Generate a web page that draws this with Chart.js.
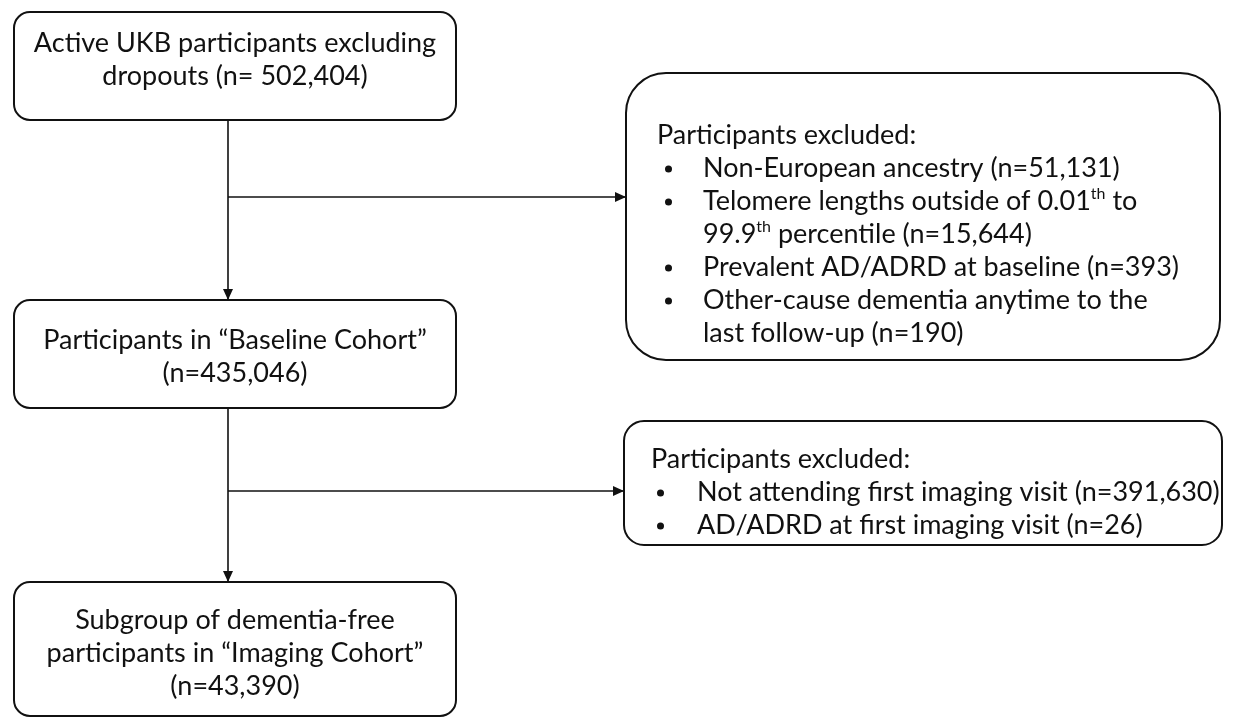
<!DOCTYPE html>
<html>
<head>
<meta charset="utf-8">
<script src="https://cdn.jsdelivr.net/npm/chart.js@4.4.1/dist/chart.umd.min.js"></script>
<style>
  html, body { margin: 0; padding: 0; background: #fff; }
  #flow { display: block; }
</style>
</head>
<body>
<canvas id="flow" width="1238" height="719"></canvas>
<script>
// Box texts (main column, top to bottom)
const mainSteps = [
    ['Active UKB participants excluding', 'dropouts (n= 502,404)'],
    ['Participants in \u201cBaseline Cohort\u201d', '(n=435,046)'],
    ['Subgroup of dementia-free', 'participants in \u201cImaging Cohort\u201d', '(n=43,390)']
];
const exclusionTitle = 'Participants excluded:';
// ^...^ marks superscript
const exclusionsBaseline = [
    ['Non-European ancestry (n=51,131)'],
    ['Telomere lengths outside of 0.01^th^ to', '99.9^th^ percentile (n=15,644)'],
    ['Prevalent AD/ADRD at baseline (n=393)'],
    ['Other-cause dementia anytime to the', 'last follow-up (n=190)']
];
const exclusionsImaging = [
    ['Not attending first imaging visit (n=391,630)'],
    ['AD/ADRD at first imaging visit (n=26)']
];

// Layout in chart units (x: 0..1238, y: 0..719 top-down)
const layout = {
    main: [
        { x0: 14, x1: 456, y0: 12, y1: 120, r: 16, firstLine: 43 },
        { x0: 14, x1: 456, y0: 300, y1: 408, r: 16, firstLine: 340 },
        { x0: 14, x1: 456, y0: 582, y1: 716, r: 16, firstLine: 620 }
    ],
    side: [
        { x0: 626, x1: 1220, y0: 73, y1: 360, r: 40, titleX: 657, bulletX: 665, textX: 703, firstLine: 135 },
        { x0: 624, x1: 1222, y0: 421, y1: 545, r: 20, titleX: 651, bulletX: 657, textX: 697, firstLine: 459 }
    ],
    lineGap: 33,
    spineX: 228,
    branchY: [197, 491]
};

const FONT = 'Lato';
const FONT_SIZE = 27;
const INK = '#111111';

// connectors: vertical spines and horizontal branches
const connectors = [
    [{ x: layout.spineX, y: layout.main[0].y1 }, { x: layout.spineX, y: layout.main[1].y0 }],
    [{ x: layout.spineX, y: layout.branchY[0] }, { x: layout.side[0].x0, y: layout.branchY[0] }],
    [{ x: layout.spineX, y: layout.main[1].y1 }, { x: layout.spineX, y: layout.main[2].y0 }],
    [{ x: layout.spineX, y: layout.branchY[1] }, { x: layout.side[1].x0, y: layout.branchY[1] }]
];

function drawRich(ctx, text, x, y, align) {
    const parts = text.split('^');
    const base = FONT_SIZE + 'px ' + FONT;
    const sup = Math.round(FONT_SIZE * 0.58) + 'px ' + FONT;
    let total = 0;
    parts.forEach((p, i) => { ctx.font = i % 2 ? sup : base; total += ctx.measureText(p).width; });
    let cx = align === 'center' ? x - total / 2 : x;
    ctx.textAlign = 'left';
    parts.forEach((p, i) => {
        ctx.font = i % 2 ? sup : base;
        ctx.fillText(p, cx, i % 2 ? y - FONT_SIZE * 0.28 : y);
        cx += ctx.measureText(p).width;
    });
}

const flowPlugin = {
    id: 'flow',
    afterDatasetsDraw(chart) {
        const { ctx, scales: { x, y } } = chart;
        const px = v => x.getPixelForValue(v);
        const py = v => y.getPixelForValue(v);
        ctx.save();
        ctx.strokeStyle = INK;
        ctx.fillStyle = INK;
        ctx.lineWidth = 2;
        ctx.textBaseline = 'middle';

        const box = b => {
            ctx.beginPath();
            ctx.roundRect(px(b.x0), py(b.y0), px(b.x1) - px(b.x0), py(b.y1) - py(b.y0), b.r);
            ctx.stroke();
        };

        layout.main.forEach((b, i) => {
            box(b);
            const cx = (b.x0 + b.x1) / 2;
            mainSteps[i].forEach((t, j) => drawRich(ctx, t, px(cx), py(b.firstLine + j * layout.lineGap), 'center'));
        });

        [exclusionsBaseline, exclusionsImaging].forEach((items, i) => {
            const b = layout.side[i];
            box(b);
            let row = 0;
            drawRich(ctx, exclusionTitle, px(b.titleX), py(b.firstLine), 'left');
            items.forEach(lines => {
                row++;
                // small round bullet
                ctx.beginPath();
                ctx.arc(px(b.bulletX) + 3.5, py(b.firstLine + row * layout.lineGap) + 1, 3.5, 0, Math.PI * 2);
                ctx.fill();
                lines.forEach((t, k) => {
                    if (k > 0) row++;
                    drawRich(ctx, t, px(b.textX), py(b.firstLine + row * layout.lineGap), 'left');
                });
            });
        });

        // arrow heads at the end of every connector
        connectors.forEach(seg => {
            const a = seg[0], e = seg[1];
            const ex = px(e.x), ey = py(e.y);
            const ang = Math.atan2(py(e.y) - py(a.y), px(e.x) - px(a.x));
            const len = 11, half = 5;
            ctx.beginPath();
            ctx.moveTo(ex, ey);
            ctx.lineTo(ex - len * Math.cos(ang) + half * Math.sin(ang), ey - len * Math.sin(ang) - half * Math.cos(ang));
            ctx.lineTo(ex - len * Math.cos(ang) - half * Math.sin(ang), ey - len * Math.sin(ang) + half * Math.cos(ang));
            ctx.closePath();
            ctx.fill();
        });
        ctx.restore();
    }
};

new Chart(document.getElementById('flow').getContext('2d'), {
    type: 'scatter',
    data: {
        datasets: connectors.map(seg => ({
            data: seg,
            showLine: true,
            borderColor: INK,
            borderWidth: 1.6,
            pointRadius: 0,
            fill: false
        }))
    },
    options: {
        responsive: false,
        devicePixelRatio: 1,
        animation: false,
        layout: { padding: 0 },
        scales: {
            x: { type: 'linear', min: 0, max: 1238, display: false },
            y: { type: 'linear', min: 0, max: 719, reverse: true, display: false }
        },
        plugins: { legend: { display: false }, tooltip: { enabled: false } }
    },
    plugins: [flowPlugin]
});
</script>
</body>
</html>
